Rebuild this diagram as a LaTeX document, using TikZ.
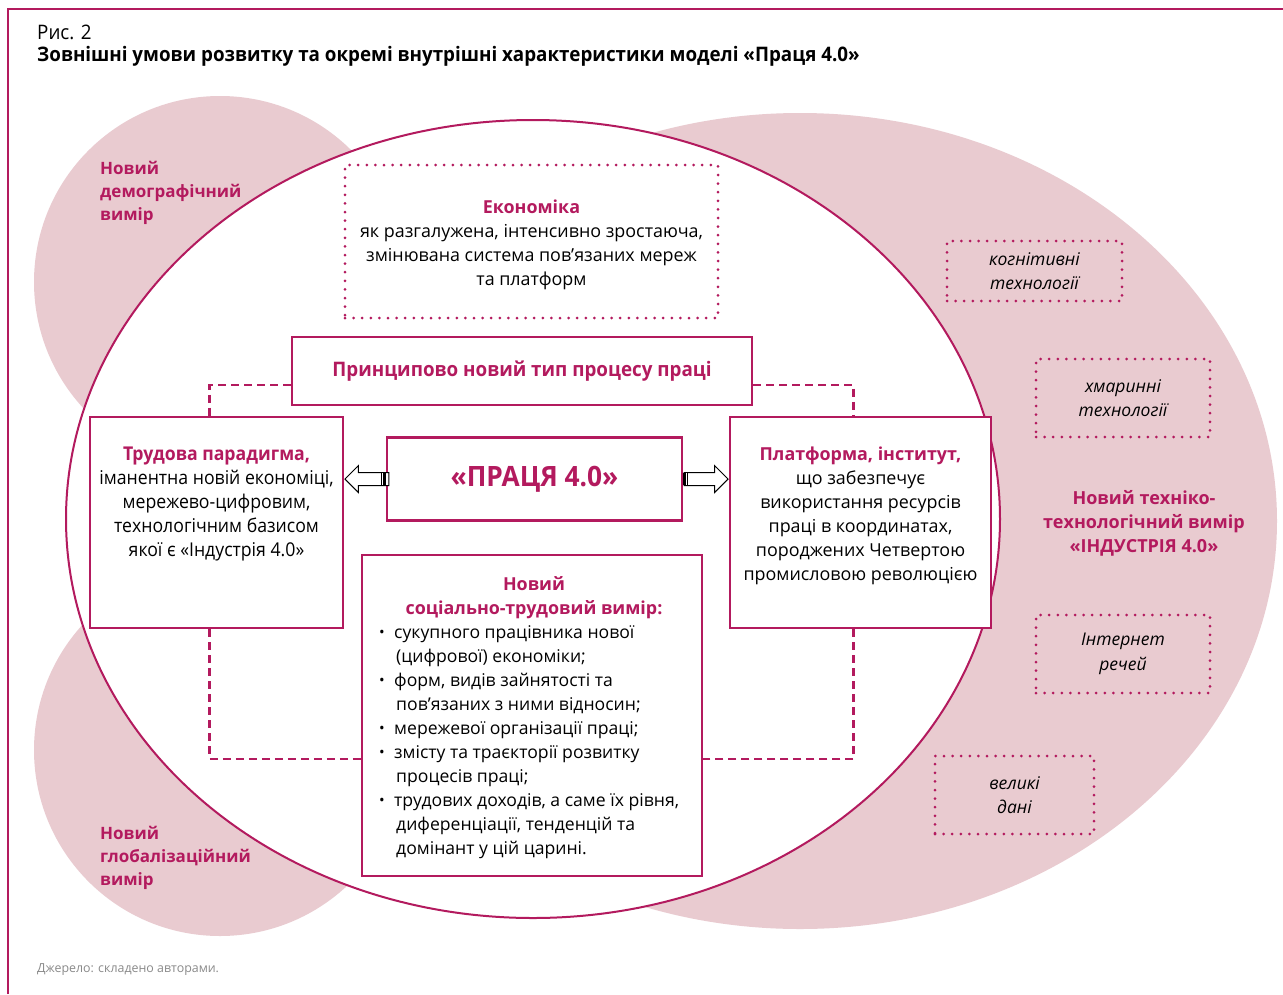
\documentclass[tikz,border=0pt]{standalone}
\usepackage{fontspec}
\setmainfont{Open Sans}
\newfontfamily\cond[FakeStretch=0.94]{Open Sans}
\newfontfamily\condlb[FakeStretch=0.93]{Open Sans}
\usetikzlibrary{shapes.arrows}
\definecolor{mag}{HTML}{B31A5E}
\definecolor{blush}{HTML}{E9CBD0}
\definecolor{srcgray}{HTML}{8A8A8A}
\newcommand{\bodyfont}{\fontsize{17.9}{24}\selectfont}
\newcommand{\bitem}[1]{\makebox[15pt][l]{\raisebox{0.5pt}{\fontsize{15}{15}\selectfont •}}#1}
\newcommand{\bcont}[1]{\hspace*{17pt}#1}

\begin{document}
\begin{tikzpicture}[x=1pt,y=-1pt,
  solidbox/.style={draw=mag, line width=2.5pt, rectangle, inner sep=0pt, fill=white, align=center},
  dotbox/.style={draw=mag, line width=3pt, dash pattern=on 0pt off 8.6pt, line cap=round,
                 rectangle, inner sep=0pt, align=center},
  link/.style={draw=mag, line width=2.2pt, dash pattern=on 8pt off 5pt},
  hollow/.style={single arrow, draw=black, fill=white, line width=1pt, minimum height=44pt,
                 minimum width=26pt, single arrow head extend=7pt, inner sep=6pt},
  tailbar/.style={rectangle, fill=black, inner sep=0pt, minimum width=5pt, minimum height=12pt},
  dimlabel/.style={text=mag, font=\bfseries\fontsize{17}{23}\selectfont, inner sep=0pt},
  bodytext/.style={font=\bodyfont, inner sep=0pt, align=center},
  techtext/.style={font=\itshape\fontsize{17.5}{24.5}\selectfont}
]
\useasboundingbox (0,0) rectangle (1283,994);
\fill[white] (0,0) rectangle (1283,994);

% page frame
\draw[mag, line width=1.6pt] (8,994) -- (8,9) -- (1283,9);

% background regions
\fill[blush] (220,282) circle (186);
\fill[blush] (220,750) circle (186);
\fill[blush] (800,521) ellipse [x radius=477, y radius=408];
\filldraw[fill=white, draw=mag, line width=2pt] (533,519) ellipse [x radius=467, y radius=399];

% heading
\node[anchor=west, inner sep=0pt, font=\cond\fontsize{20}{22}\selectfont] (fig) at (37,32) {Рис. 2};
\node[anchor=west, inner sep=0pt, font=\cond\bfseries\fontsize{20}{22}\selectfont] (title) at (37,56)
  {Зовнішні умови розвитку та окремі внутрішні характеристики моделі «Праця 4.0»};

% outer dimensions
\node[dimlabel, anchor=west, align=left] (demo) at (100,193) {Новий\\демографічний\\вимір};
\node[dimlabel, anchor=west, align=left] (glob) at (100,858) {Новий\\глобалізаційний\\вимір};
\node[dimlabel, align=center, font=\bfseries\fontsize{18}{24}\selectfont] (ind) at (1144,523)
  {Новий техніко-\\технологічний вимір\\«ІНДУСТРІЯ 4.0»};

% technologies
\node[dotbox, techtext, minimum width=175pt, minimum height=60pt] (kog) at (1034.5,271) {когнітивні\\технології};
\node[dotbox, techtext, minimum width=174pt, minimum height=78pt] (hmar) at (1123,398) {хмаринні\\технології};
\node[dotbox, techtext, minimum width=174pt, minimum height=78pt] (inet) at (1123,654) {Інтернет\\речей};
\node[dotbox, techtext, minimum width=159pt, minimum height=78pt] (big) at (1014.5,795) {великі\\дані};

% economy
\node[dotbox, minimum width=373pt, minimum height=153pt] (econ) at (531.5,241.5) {};
\node[bodytext] (econt) at (531.5,244.5)
  {{\bfseries\color{mag}Економіка}\\як разгалужена, інтенсивно зростаюча,\\змінювана система пов’язаних мереж\\та платформ};

% boxes of the model
\node[solidbox, minimum width=460pt, minimum height=68pt, text=mag, font=\cond\bfseries\fontsize{20}{24}\selectfont] (princ) at (522,371)
  {Принципово новий тип процесу праці};
\node[solidbox, minimum width=253pt, minimum height=211pt] (lb) at (216.5,522.5) {};
\node[solidbox, minimum width=295pt, minimum height=83pt, text=mag, font=\cond\bfseries\fontsize{28}{30}\selectfont] (cb) at (534.5,479)
  {«ПРАЦЯ 4.0»};
\node[solidbox, minimum width=261pt, minimum height=211pt] (rb) at (860.5,522.5) {};
\node[solidbox, minimum width=340pt, minimum height=321pt] (sb) at (532,715.5) {};

% dashed links between the boxes
\draw[link] ([yshift=-14pt]princ.west) -| ([xshift=-7pt]lb.north);
\draw[link] ([yshift=-14pt]princ.east) -| ([xshift=-7pt]rb.north);
\draw[link] ([xshift=-7pt]lb.south) |- ([yshift=-43.5pt]sb.west);
\draw[link] ([xshift=-7pt]rb.south) |- ([yshift=-43.5pt]sb.east);

% box texts
\node[bodytext, font=\condlb\fontsize{19}{24}\selectfont] (lbt) at (216.5,504)
  {{\bfseries\color{mag}Трудова парадигма,}\\іманентна новій економіці,\\мережево-цифровим,\\технологічним базисом\\якої є «Індустрія 4.0»};
\node[bodytext] (rbt) at (860.5,516)
  {{\bfseries\color{mag}Платформа, інститут,}\\що забезпечує\\використання ресурсів\\праці в координатах,\\породжених Четвертою\\промисловою революцією};
\node[bodytext, text=mag, font=\bfseries\bodyfont] (sbh) at (534,598) {Новий\\соціально-трудовий вимір:};
\node[bodytext, anchor=west, align=left, font=\fontsize{17.6}{24}\selectfont] (sbl) at (379,742)
  {\bitem{сукупного працівника нової}\\
   \bcont{(цифрової) економіки;}\\
   \bitem{форм, видів зайнятості та}\\
   \bcont{пов’язаних з ними відносин;}\\
   \bitem{мережевої організації праці;}\\
   \bitem{змісту та траєкторії розвитку}\\
   \bcont{процесів праці;}\\
   \bitem{трудових доходів, а саме їх рівня,}\\
   \bcont{диференціації, тенденцій та}\\
   \bcont{домінант у цій царині.}};

% hollow arrows from the centre to the side boxes
\node[hollow, shape border rotate=180, anchor=tip] (al) at (lb.east |- cb.west) {};
\node[hollow, anchor=tip] (ar) at (rb.west |- cb.east) {};
\node[tailbar, anchor=east] (alt) at (cb.west) {};
\node[tailbar, anchor=west] (art) at (cb.east) {};
\draw[white, line width=1pt] ([xshift=-1pt]alt.north) -- ([xshift=-1pt]alt.south);
\draw[white, line width=1pt] ([xshift=1pt]art.north) -- ([xshift=1pt]art.south);

% source note
\node[anchor=west, inner sep=0pt, text=srcgray, font=\fontsize{12.4}{14}\selectfont] (src) at (37,970) {Джерело: складено авторами.};
\end{tikzpicture}
\end{document}
